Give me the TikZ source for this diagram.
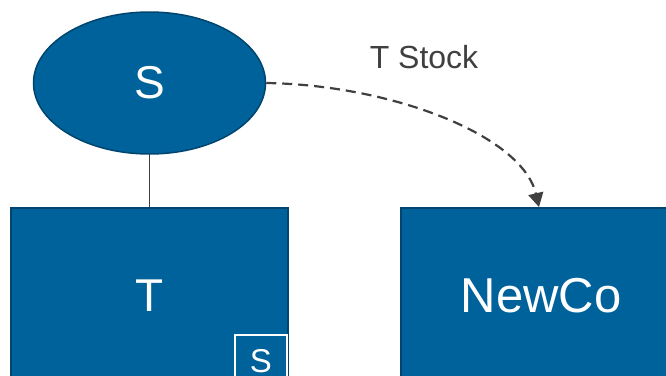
\documentclass[tikz,border=0pt]{standalone}
\usepackage{fontspec}
\setmainfont{Liberation Sans}
\usetikzlibrary{shapes.geometric,arrows.meta}
\definecolor{entblue}{RGB}{0,98,155}
\definecolor{entedge}{RGB}{0,69,110}
\definecolor{linkgray}{RGB}{64,64,64}
\tikzset{
  entity/.style={draw=entedge, fill=entblue, text=white, line width=2pt, inner sep=0pt},
  corp/.style={entity, rectangle},
  owner/.style={entity, ellipse, line width=1.5pt},
  tag/.style={rectangle, draw=white, fill=entblue, text=white, line width=2pt, inner sep=0pt,
              minimum width=52pt, minimum height=52pt, font=\fontsize{33}{36}\selectfont},
  stocklink/.style={draw=linkgray, line width=2.2pt, dash pattern=on 10pt off 6pt,
                    -{Triangle[length=14pt,width=15pt]}},
  holding/.style={draw=linkgray, line width=1pt}
}
\begin{document}
\begin{tikzpicture}[x=1pt, y=-1pt]
  \useasboundingbox (0,0) rectangle (666,375);
  \clip (0,0) rectangle (666,375);

  % shareholder
  \node[owner, minimum width=232pt, minimum height=142pt,
        font=\fontsize{46}{50}\selectfont] (S) at (149.5,83) {S};

  % corporations
  \node[corp, minimum width=277pt, minimum height=176pt,
        font=\fontsize{46}{50}\selectfont] (T) at (149.5,296) {T};
  \node[corp, minimum width=280pt, minimum height=176pt,
        font=\fontsize{49}{54}\selectfont] (N) at (541,296) {NewCo};

  % ownership tag inside T
  \node[tag] (ts) at (261,361) {S};

  % S holds T
  \draw[holding] (S.south) -- (T.north);

  % transfer of T stock to NewCo
  \coordinate (Nin) at ([xshift=-2pt]N.north);
  \draw[stocklink] (S.east) .. controls +(125,2) and +(-17,-72) .. (Nin);
  \node[text=linkgray, font=\fontsize{32}{36}\selectfont] (lbl) at (424,57) {T Stock};
\end{tikzpicture}
\end{document}
